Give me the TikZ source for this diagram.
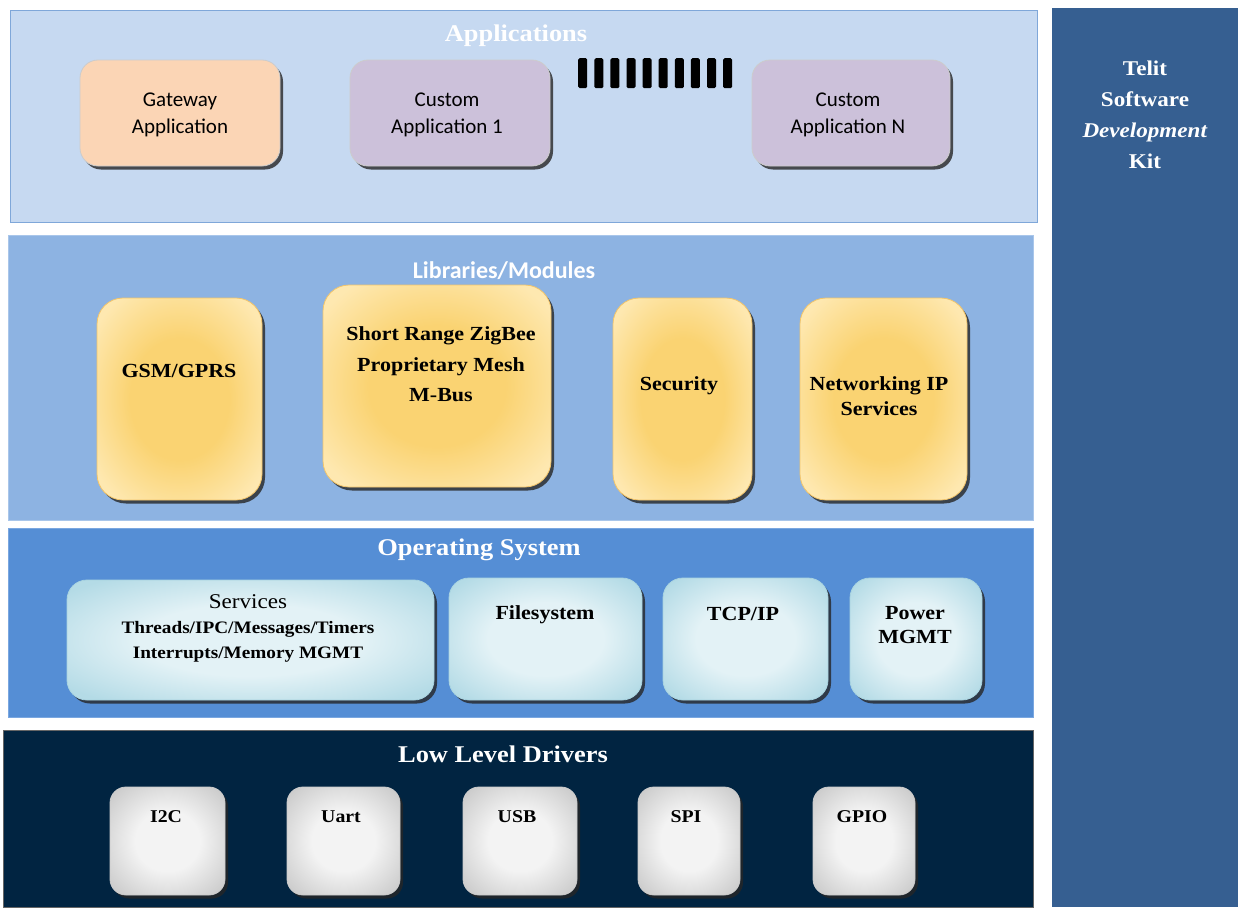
\documentclass[tikz,border=0pt]{standalone}
\usepackage{fontspec}
\usetikzlibrary{shadows,shadings}
\newfontfamily\camb[FakeStretch=1.1]{Liberation Serif}
\newfontfamily\cali{Carlito}

\definecolor{appbg}{HTML}{C6D9F1}
\definecolor{appframe}{HTML}{7FA7D9}
\definecolor{libbg}{HTML}{8DB3E2}
\definecolor{libframe}{HTML}{A9C6EA}
\definecolor{osbg}{HTML}{558ED5}
\definecolor{osframe}{HTML}{7AA7E0}
\definecolor{drvbg}{HTML}{012441}
\definecolor{sdkbg}{HTML}{365F91}
\definecolor{peach}{HTML}{FBD5B5}
\definecolor{lilac}{HTML}{CCC1DA}
\definecolor{goldlight}{HTML}{FEE8B0}
\definecolor{golddark}{HTML}{FAD372}
\definecolor{goldframe}{HTML}{F2C46A}
\definecolor{cyanlight}{HTML}{E3F2F6}
\definecolor{cyandark}{HTML}{B4DBE6}
\definecolor{cyanframe}{HTML}{A8D3E0}
\definecolor{greylight}{HTML}{F3F3F3}
\definecolor{greydark}{HTML}{CDCDCD}

% soft radial fills: a broad even centre that changes tone towards the corners
\pgfdeclareradialshading{goldglow}{\pgfpoint{0bp}{0bp}}{color(0bp)=(golddark); color(15bp)=(golddark); color(31bp)=(goldlight); color(50bp)=(goldlight)}
\pgfdeclareradialshading{cyanglow}{\pgfpoint{0bp}{0bp}}{color(0bp)=(cyanlight); color(15bp)=(cyanlight); color(32bp)=(cyandark); color(50bp)=(cyandark)}
\pgfdeclareradialshading{greyglow}{\pgfpoint{0bp}{0bp}}{color(0bp)=(greylight); color(14bp)=(greylight); color(32bp)=(greydark); color(50bp)=(greydark)}

\tikzset{
  layer/.style={draw=#1, line width=1.2pt, inner sep=0pt, anchor=north west},
  boxshadow/.style={drop shadow={shadow xshift=3pt, shadow yshift=-3.5pt, opacity=.8, fill=black!85}},
  appbox/.style={draw=black!20, line width=0.8pt, fill=#1, rounded corners=18pt,
    inner sep=0pt, boxshadow},
  libbox/.style={draw=goldframe, line width=0.8pt, rounded corners=26pt, inner sep=0pt,
    shade, shading=goldglow, boxshadow},
  osbox/.style={draw=cyanframe, line width=0.8pt, rounded corners=20pt, inner sep=0pt,
    shade, shading=cyanglow, boxshadow},
  drvbox/.style={draw=white!80!black, line width=0.8pt, rounded corners=16pt, inner sep=0pt,
    shade, shading=greyglow, boxshadow},
  title/.style={text=white, inner sep=0pt, font=\camb\bfseries\fontsize{24}{28}\selectfont},
  apptxt/.style={inner sep=0pt, align=center, font=\cali\fontsize{21}{27}\selectfont},
  libtxt/.style={inner sep=0pt, align=center, font=\camb\bfseries\fontsize{20}{30.5}\selectfont},
  ostxt/.style={inner sep=0pt, align=center, font=\camb\bfseries\fontsize{20}{24}\selectfont},
  drvtxt/.style={inner sep=0pt, font=\camb\bfseries\fontsize{18}{22}\selectfont},
  sdktxt/.style={text=white, inner sep=0pt, align=center, font=\camb\bfseries\fontsize{21}{31}\selectfont},
  dotbar/.style={fill=black, draw=none, rounded corners=1.5pt, inner sep=0pt, anchor=north west,
    minimum width=9pt, minimum height=30pt},
}

\begin{document}
\begin{tikzpicture}[x=1pt, y=-1pt]
\useasboundingbox[fill=white] (0,0) rectangle (1238,907);

% ---------- SDK column ----------
\node[fill=sdkbg, inner sep=0pt, anchor=north west, minimum width=186pt, minimum height=899pt] (sdk) at (1052,8) {};
\node[sdktxt] (sdkname) at (1145,114.5) {Telit\\Software\\\textit{Development}\\Kit};

% ---------- Applications layer ----------
\node[layer=appframe, fill=appbg, minimum width=1027pt, minimum height=212pt] (apps) at (10,10) {};
\node[title] (appstitle) at (516,36) {Applications};
\node[appbox=peach, minimum width=200pt, minimum height=106pt] (gwbox) at (180,113) {};
\node[apptxt] (gwtxt) at (180,115) {Gateway\\Application};
\node[appbox=lilac, minimum width=200pt, minimum height=106pt] (c1box) at (450,113) {};
\node[apptxt] (c1txt) at (447,115) {Custom\\Application 1};
\node[appbox=lilac, minimum width=198pt, minimum height=106pt] (cnbox) at (851,113) {};
\node[apptxt] (cntxt) at (848,115) {Custom\\Application N};
\foreach \i in {0,...,9}
  \node[dotbar] (bar\i) at ({578+16.1*\i},58) {};

% ---------- Libraries / Modules layer ----------
\node[layer=libframe, fill=libbg, minimum width=1025pt, minimum height=285pt] (libs) at (8,235) {};
\node[title, font=\cali\bfseries\fontsize{24}{28}\selectfont] (libstitle) at (504,271) {Libraries/Modules};
\node[libbox, minimum width=165pt, minimum height=202pt] (gsmbox) at (179.5,399) {};
\node[libtxt] (gsmtxt) at (179,371) {GSM/GPRS};
\node[libbox, minimum width=228pt, minimum height=202pt] (srbox) at (437,386) {};
\node[libtxt] (srtxt) at (441,364.5) {Short Range ZigBee\\Proprietary Mesh\\M-Bus};
\node[libbox, minimum width=139pt, minimum height=202pt] (secbox) at (682.5,399) {};
\node[libtxt] (sectxt) at (679,386) {Security};
\node[libbox, minimum width=167pt, minimum height=202pt] (netbox) at (883.5,399) {};
\node[libtxt, font=\camb\bfseries\fontsize{20}{25}\selectfont] (nettxt) at (879,396.5) {Networking IP\\Services};

% ---------- Operating System layer ----------
\node[layer=osframe, fill=osbg, minimum width=1025pt, minimum height=189pt] (os) at (8,528) {};
\node[title] (ostitle) at (479,550) {Operating System};
\node[osbox, minimum width=367pt, minimum height=120pt] (svcbox) at (250.5,640) {};
\node[inner sep=0pt, font=\camb\fontsize{21}{24}\selectfont] (svctitle) at (248,601.5) {Services};
\node[inner sep=0pt, align=center, font=\camb\bfseries\fontsize{17.5}{25}\selectfont] (svctxt) at (248,641.5)
  {Threads/IPC/Messages/Timers\\Interrupts/Memory MGMT};
\node[osbox, minimum width=193pt, minimum height=122pt] (fsbox) at (545.5,639) {};
\node[ostxt] (fstxt) at (545,615) {Filesystem};
\node[osbox, minimum width=165pt, minimum height=122pt] (tcpbox) at (745.5,639) {};
\node[ostxt] (tcptxt) at (743,614) {TCP/IP};
\node[osbox, minimum width=132pt, minimum height=122pt] (pwrbox) at (916,639) {};
\node[ostxt] (pwrtxt) at (915,625) {Power\\MGMT};

% ---------- Low Level Drivers layer ----------
\node[fill=drvbg, draw=black!60, line width=0.8pt, inner sep=0pt, anchor=north west,
  minimum width=1030pt, minimum height=177pt] (drv) at (3,730) {};
\node[title] (drvtitle) at (503,754) {Low Level Drivers};
\node[drvbox, minimum width=115pt, minimum height=108pt] (i2cbox) at (167.5,841) {};
\node[drvtxt] (i2ctxt) at (166,817) {I2C};
\node[drvbox, minimum width=113pt, minimum height=108pt] (uartbox) at (343.5,841) {};
\node[drvtxt] (uarttxt) at (341,817) {Uart};
\node[drvbox, minimum width=114pt, minimum height=108pt] (usbbox) at (520,841) {};
\node[drvtxt] (usbtxt) at (517,817) {USB};
\node[drvbox, minimum width=102pt, minimum height=108pt] (spibox) at (689,841) {};
\node[drvtxt] (spitxt) at (686,817) {SPI};
\node[drvbox, minimum width=102pt, minimum height=108pt] (gpiobox) at (864,841) {};
\node[drvtxt] (gpiotxt) at (862,817) {GPIO};
\end{tikzpicture}
\end{document}
